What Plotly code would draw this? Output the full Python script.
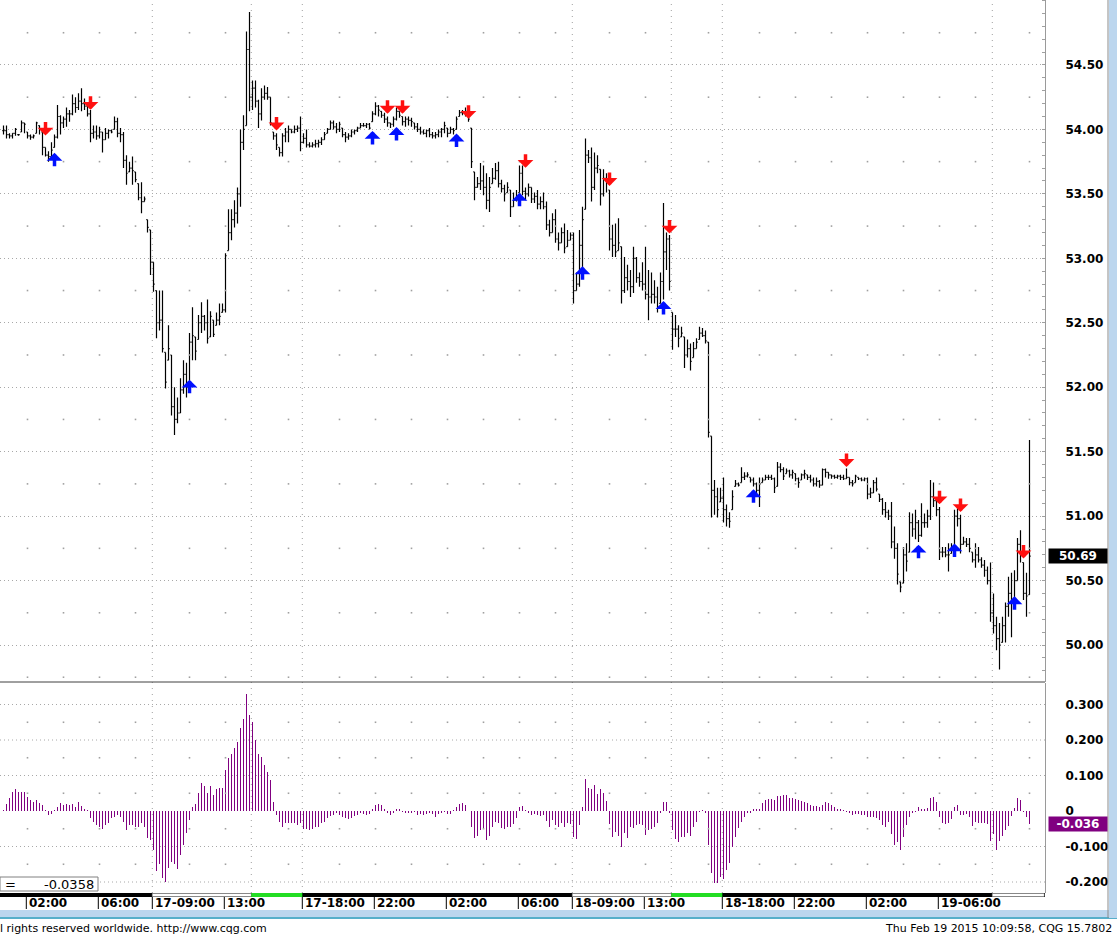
import plotly.graph_objects as go

# 10-minute bars, Feb 17 00:40 -> Feb 19 11:00
high = [
    # 0-59
    54.03, 54.03, 53.97, 53.97, 54.01, 53.96, 54.07, 54.05, 53.98, 53.96,
    53.96, 54.06, 54.03, 53.98, 53.86, 53.83, 53.90, 53.96, 54.19, 54.11,
    54.10, 54.17, 54.15, 54.27, 54.25, 54.28, 54.32, 54.24, 54.21, 54.15,
    54.03, 54.03, 54.02, 53.98, 54.01, 54.00, 54.00, 54.10, 54.09, 54.01,
    53.98, 53.80, 53.75, 53.79, 53.67, 53.58, 53.59, 53.48, 53.30, 53.22,
    52.97, 52.75, 52.75, 52.75, 52.27, 52.48, 52.25, 52.00, 51.92, 52.07,
    # 60-101
    52.21, 52.19, 52.42, 52.62, 52.39, 52.56, 52.66, 52.56, 52.68, 52.59,
    52.52, 52.58, 52.65, 52.65, 53.04, 53.38, 53.38, 53.45, 53.55, 54.00,
    54.11, 54.76, 54.91, 54.38, 54.38, 54.23, 54.32, 54.34, 54.33, 54.25,
    53.98, 53.97, 53.86, 53.97, 54.01, 54.03, 54.00, 54.03, 54.03, 54.10,
    53.97, 54.00,
    # 102-159
    53.90, 53.90, 53.92, 53.92, 53.94, 53.98, 54.01, 54.07, 54.07, 54.05,
    54.06, 54.01, 53.98, 53.97, 54.00, 54.00, 54.02, 54.05, 54.05, 54.05,
    54.05, 54.14, 54.21, 54.19, 54.14, 54.13, 54.10, 54.05, 54.10, 54.17,
    54.14, 54.10, 54.10, 54.10, 54.09, 54.05, 54.05, 54.02, 54.00, 54.00,
    54.01, 53.98, 53.98, 54.00, 54.01, 54.06, 54.01, 54.02, 54.01, 54.10,
    54.15, 54.15, 54.17, 54.14, 54.01, 53.67, 53.63, 53.74,
    # 160-212
    53.72, 53.66, 53.63, 53.70, 53.74, 53.75, 53.61, 53.57, 53.59, 53.53,
    53.51, 53.53, 53.72, 53.72, 53.55, 53.58, 53.55, 53.51, 53.53, 53.48,
    53.51, 53.44, 53.30, 53.35, 53.38, 53.20, 53.24, 53.27, 53.22, 53.20,
    53.20, 52.89, 53.22, 53.40, 53.93, 53.84, 53.86, 53.82, 53.80, 53.69,
    53.69, 53.66, 53.53, 53.26, 53.27, 53.31, 53.09, 53.01, 52.95, 52.91,
    53.09, 53.01, 52.89,
    # 213-254
    52.97, 53.09, 52.91, 52.89, 52.83, 52.78, 52.89, 53.43, 53.20, 53.18,
    52.58, 52.56, 52.48, 52.47, 52.39, 52.37, 52.34, 52.35, 52.38, 52.47,
    52.46, 52.44, 52.35, 51.62, 51.28, 51.22, 51.22, 51.30, 51.09, 51.03,
    51.20, 51.28, 51.26, 51.38, 51.34, 51.34, 51.30, 51.30, 51.26, 51.30,
    51.30, 51.32,
    # 255-302
    51.32, 51.32, 51.30, 51.42, 51.41, 51.38, 51.37, 51.36, 51.36, 51.33,
    51.30, 51.33, 51.36, 51.32, 51.32, 51.30, 51.30, 51.28, 51.37, 51.37,
    51.34, 51.32, 51.32, 51.32, 51.32, 51.32, 51.37, 51.30, 51.28, 51.32,
    51.30, 51.30, 51.30, 51.30, 51.22, 51.28, 51.30, 51.17, 51.14, 51.11,
    51.05, 51.11, 50.92, 50.79, 50.49, 50.76, 50.79, 51.03,
    # 303-342
    51.02, 51.05, 50.97, 51.10, 51.02, 51.05, 51.28, 51.26, 51.13, 51.07,
    50.76, 50.76, 50.79, 50.79, 51.05, 51.06, 51.01, 50.84, 50.83, 50.83,
    50.72, 50.79, 50.76, 50.68, 50.66, 50.61, 50.64, 50.40, 50.22, 50.17,
    50.22, 50.33, 50.53, 50.56, 50.58, 50.83, 50.89, 50.64, 50.56, 51.59,
]

low = [
    53.96, 53.93, 53.93, 53.93, 53.95, 53.95, 53.98, 53.97, 53.93, 53.92,
    53.93, 53.97, 53.96, 53.80, 53.79, 53.75, 53.79, 53.86, 53.93, 53.96,
    54.01, 54.02, 54.06, 54.11, 54.13, 54.15, 54.14, 54.15, 54.10, 53.90,
    53.93, 53.92, 53.93, 53.82, 53.92, 53.93, 53.97, 54.00, 53.94, 53.90,
    53.70, 53.57, 53.67, 53.57, 53.59, 53.45, 53.35, 53.44, 53.20, 52.87,
    52.74, 52.38, 52.44, 52.27, 51.99, 52.21, 51.78, 51.63, 51.72, 51.80,
    51.95, 51.92, 52.03, 52.21, 52.21, 52.37, 52.42, 52.44, 52.34, 52.39,
    52.39, 52.48, 52.48, 52.58, 52.58, 53.06, 53.14, 53.24, 53.27, 53.40,
    53.84, 54.03, 54.14, 54.15, 54.17, 54.01, 54.07, 54.23, 54.23, 54.03,
    53.92, 53.84, 53.79, 53.79, 53.90, 53.90, 53.97, 53.97, 53.98, 53.83,
    53.89, 53.86,
    53.86, 53.86, 53.86, 53.86, 53.88, 53.92, 53.97, 54.00, 54.00, 53.97,
    53.98, 53.94, 53.90, 53.92, 53.94, 53.96, 53.98, 54.01, 54.02, 54.01,
    54.00, 54.06, 54.11, 54.10, 54.09, 54.05, 54.02, 54.01, 54.02, 54.07,
    54.09, 54.03, 54.02, 54.03, 54.02, 54.00, 53.98, 53.96, 53.96, 53.94,
    53.94, 53.93, 53.93, 53.94, 53.94, 53.97, 53.94, 53.97, 53.96, 54.00,
    54.10, 54.11, 54.10, 54.06, 53.70, 53.45, 53.55, 53.53,
    53.49, 53.38, 53.36, 53.58, 53.61, 53.55, 53.51, 53.44, 53.51, 53.32,
    53.40, 53.44, 53.51, 53.49, 53.45, 53.48, 53.43, 53.43, 53.38, 53.38,
    53.38, 53.22, 53.17, 53.20, 53.12, 53.06, 53.12, 53.04, 53.09, 53.14,
    52.65, 52.75, 52.78, 52.89, 53.38, 53.74, 53.44, 53.53, 53.66, 53.41,
    53.48, 53.51, 53.06, 53.01, 53.01, 53.06, 52.65, 52.73, 52.75, 52.70,
    52.73, 52.81, 52.78,
    52.75, 52.68, 52.52, 52.65, 52.65, 52.58, 52.65, 52.68, 52.91, 52.75,
    52.29, 52.39, 52.31, 52.39, 52.15, 52.23, 52.13, 52.23, 52.30, 52.37,
    52.39, 52.34, 51.61, 50.99, 51.01, 50.99, 51.11, 50.95, 50.92, 50.91,
    51.05, 51.23, 51.23, 51.26, 51.28, 51.30, 51.26, 51.23, 51.18, 51.07,
    51.26, 51.28,
    51.28, 51.28, 51.18, 51.23, 51.34, 51.28, 51.33, 51.30, 51.29, 51.27,
    51.22, 51.28, 51.29, 51.28, 51.26, 51.23, 51.23, 51.22, 51.24, 51.30,
    51.29, 51.29, 51.29, 51.29, 51.28, 51.28, 51.29, 51.24, 51.23, 51.26,
    51.28, 51.27, 51.27, 51.13, 51.14, 51.18, 51.19, 51.11, 51.01, 50.99,
    50.97, 50.75, 50.67, 50.47, 50.41, 50.48, 50.57, 50.72,
    50.84, 50.82, 50.80, 50.84, 50.91, 50.91, 50.97, 51.07, 51.00, 50.66,
    50.68, 50.68, 50.57, 50.71, 50.76, 50.92, 50.71, 50.78, 50.76, 50.72,
    50.64, 50.60, 50.64, 50.60, 50.53, 50.47, 50.18, 50.09, 49.96, 49.81,
    50.02, 50.02, 50.22, 50.06, 50.30, 50.50, 50.64, 50.35, 50.22, 50.39,
]

close = [
    53.99, 53.96, 53.95, 53.97, 54.00, 53.96, 54.05, 54.04, 53.95, 53.94,
    53.95, 54.05, 54.00, 53.86, 53.80, 53.79, 53.84, 53.94, 54.10, 54.05,
    54.08, 54.12, 54.12, 54.20, 54.17, 54.22, 54.20, 54.18, 54.12, 53.97,
    53.98, 53.95, 53.98, 53.92, 53.97, 53.99, 53.98, 54.06, 53.97, 53.96,
    53.76, 53.66, 53.70, 53.68, 53.61, 53.47, 53.44, 53.46, 53.24, 52.97,
    52.80, 52.50, 52.52, 52.30, 52.04, 52.30, 51.85, 51.75, 51.80, 51.98,
    52.10, 52.00, 52.35, 52.40, 52.28, 52.50, 52.55, 52.50, 52.38, 52.55,
    52.41, 52.52, 52.55, 52.60, 53.02, 53.20, 53.30, 53.35, 53.50, 53.90,
    54.00, 54.62, 54.25, 54.32, 54.22, 54.12, 54.25, 54.28, 54.25, 54.05,
    53.95, 53.88, 53.82, 53.95, 53.98, 54.00, 53.98, 54.00, 54.01, 53.90,
    53.93, 53.88,
    53.87, 53.88, 53.89, 53.90, 53.92, 53.96, 54.00, 54.05, 54.02, 54.00,
    54.04, 53.96, 53.94, 53.95, 53.98, 53.99, 54.01, 54.03, 54.03, 54.04,
    54.01, 54.12, 54.18, 54.15, 54.11, 54.08, 54.05, 54.04, 54.08, 54.14,
    54.11, 54.06, 54.08, 54.07, 54.06, 54.02, 54.00, 53.98, 53.97, 53.99,
    53.96, 53.95, 53.96, 53.98, 54.00, 54.03, 53.97, 54.00, 53.99, 54.08,
    54.13, 54.13, 54.14, 54.08, 53.75, 53.55, 53.58, 53.60,
    53.55, 53.45, 53.55, 53.62, 53.68, 53.58, 53.54, 53.50, 53.55, 53.40,
    53.45, 53.48, 53.66, 53.52, 53.50, 53.55, 53.46, 53.48, 53.42, 53.44,
    53.40, 53.26, 53.20, 53.30, 53.15, 53.12, 53.20, 53.08, 53.14, 53.18,
    52.75, 52.80, 53.10, 53.30, 53.80, 53.78, 53.55, 53.70, 53.72, 53.50,
    53.62, 53.60, 53.15, 53.10, 53.05, 53.12, 52.75, 52.85, 52.82, 52.78,
    53.00, 52.85, 52.82,
    52.80, 52.72, 52.70, 52.72, 52.70, 52.62, 52.82, 53.05, 53.15, 52.82,
    52.45, 52.45, 52.38, 52.42, 52.25, 52.30, 52.20, 52.30, 52.35, 52.42,
    52.40, 52.36, 51.65, 51.20, 51.15, 51.05, 51.14, 51.05, 50.98, 50.96,
    51.15, 51.25, 51.24, 51.30, 51.31, 51.32, 51.28, 51.25, 51.20, 51.25,
    51.28, 51.30,
    51.30, 51.29, 51.22, 51.38, 51.36, 51.31, 51.35, 51.32, 51.34, 51.29,
    51.26, 51.32, 51.33, 51.30, 51.28, 51.25, 51.27, 51.24, 51.36, 51.34,
    51.32, 51.31, 51.30, 51.31, 51.30, 51.29, 51.30, 51.26, 51.25, 51.31,
    51.29, 51.28, 51.29, 51.17, 51.18, 51.26, 51.21, 51.13, 51.05, 51.03,
    51.00, 50.80, 50.75, 50.55, 50.45, 50.70, 50.65, 50.95,
    50.90, 50.95, 50.85, 50.95, 50.95, 51.00, 51.15, 51.12, 51.05, 50.72,
    50.72, 50.70, 50.70, 50.75, 51.00, 50.98, 50.78, 50.80, 50.78, 50.75,
    50.66, 50.70, 50.66, 50.62, 50.58, 50.50, 50.25, 50.15, 50.05, 50.00,
    50.15, 50.30, 50.40, 50.35, 50.50, 50.78, 50.70, 50.40, 50.38, 50.69,
]

# oscillator histogram, one value per bar
macd_hist = [
    0.002, 0.020, 0.036, 0.054, 0.062, 0.054, 0.054, 0.054, 0.040, 0.031,
    0.024, 0.031, 0.022, 0.017, 0.001, -0.011, -0.008, 0.001, 0.012, 0.022,
    0.017, 0.020, 0.017, 0.020, 0.012, 0.024, 0.014, 0.007, 0.001,
    -0.020, -0.030, -0.040, -0.045, -0.050, -0.040, -0.035, -0.020, -0.016, -0.012,
    -0.016, -0.030, -0.054, -0.040, -0.040, -0.045, -0.045, -0.035, -0.045, -0.077,
    -0.082, -0.110, -0.170, -0.150, -0.190, -0.200, -0.160, -0.143, -0.150, -0.162,
    -0.124, -0.096, -0.063, -0.025,
    0.012, 0.020, 0.050, 0.078, 0.070, 0.050, 0.070, 0.045, 0.061, 0.064,
    0.064, 0.115, 0.148, 0.162, 0.178, 0.194, 0.233, 0.260, 0.330, 0.270,
    0.250, 0.200, 0.160, 0.153, 0.130, 0.110, 0.087, 0.026,
    -0.012, -0.030, -0.045, -0.035, -0.035, -0.035, -0.035, -0.040, -0.035, -0.050,
    -0.050, -0.054, -0.050, -0.045, -0.045, -0.035, -0.030, -0.020, -0.014, -0.012,
    -0.007, -0.012,
    -0.016, -0.020, -0.023, -0.020, -0.014, -0.011, -0.006, -0.008, -0.011, -0.008,
    0.003, 0.017, 0.020, 0.017, 0.005, -0.005, -0.012, -0.007, 0.003, 0.006,
    -0.002, -0.005, -0.007, -0.003, -0.002, -0.010, -0.009, -0.010, -0.008, -0.003,
    -0.008, -0.016, -0.008, -0.006, -0.002, -0.008, -0.008, 0.001, 0.010, 0.019,
    0.022, 0.017, 0.000, -0.046, -0.077, -0.070, -0.054, -0.052, -0.082, -0.070,
    -0.044, -0.030, -0.035, -0.049, -0.052, -0.046, -0.046, -0.037, -0.021, 0.010,
    0.014, 0.001, -0.007, -0.011, -0.008, -0.011, -0.014, -0.011, -0.027, -0.046,
    -0.025, -0.039, -0.046, -0.033, -0.044, -0.033, -0.038, -0.072, -0.080, -0.039,
    0.012, 0.089, 0.064, 0.061, 0.072, 0.048, 0.062, 0.052, 0.028, -0.037,
    -0.072, -0.058, -0.070, -0.102, -0.063, -0.077, -0.044, -0.049, -0.039, -0.037,
    -0.039, -0.068, -0.054, -0.052, -0.044, -0.033, -0.005, 0.026, 0.026, -0.007,
    -0.054, -0.080, -0.086, -0.072, -0.072, -0.063, -0.070, -0.046, -0.030, -0.002,
    0.001, -0.007, -0.096, -0.174, -0.202, -0.202, -0.187, -0.192, -0.166, -0.147,
    -0.102, -0.072, -0.049, -0.030, -0.016, -0.005, -0.003, 0.003, 0.005, 0.003,
    0.023, 0.031, 0.033, 0.033, 0.031, 0.042, 0.043, 0.045, 0.045, 0.038,
    0.036, 0.033, 0.031, 0.029, 0.026, 0.023, 0.017, 0.014, 0.014, 0.010,
    0.017, 0.024, 0.022, 0.017, 0.012, 0.007, 0.005, 0.001, -0.002, -0.005,
    -0.012, -0.008, -0.008, -0.010, -0.010, -0.018, -0.018, -0.016, -0.021, -0.025,
    -0.039, -0.044, -0.030, -0.065, -0.096, -0.086, -0.110, -0.074, -0.039, -0.016,
    -0.005, -0.002, 0.012, 0.005, 0.005, 0.008, 0.036, 0.040, 0.026, -0.018,
    -0.035, -0.037, -0.035, -0.023, 0.010, 0.017, -0.011, -0.011, -0.008, -0.016,
    -0.042, -0.030, -0.033, -0.033, -0.033, -0.037, -0.084, -0.065, -0.110, -0.084,
    -0.070, -0.054, -0.042, -0.014, 0.008, 0.036, 0.031, -0.002, -0.018, -0.036,
]

# signal arrows (bar index, price level of the arrow)
sell_idx = [14, 29, 91, 128, 133, 155, 174, 202, 222, 281, 312, 319, 340]
sell_px = [54.01, 54.21, 54.05, 54.18, 54.18, 54.14, 53.76, 53.62, 53.25, 51.44, 51.15, 51.09, 50.73]
buy_idx = [17, 62, 123, 131, 151, 172, 193, 220, 250, 305, 317, 337]
buy_px = [53.76, 52.00, 53.93, 53.96, 53.91, 53.45, 52.88, 52.61, 51.15, 50.72, 50.73, 50.32]

# time axis
tick_idx = [8, 32, 50, 74, 100, 124, 148, 172, 190, 214, 240, 264, 288, 312]
tick_text = ["02:00", "06:00", "17-09:00", "13:00", "17-18:00", "22:00", "02:00",
             "06:00", "18-09:00", "13:00", "18-18:00", "22:00", "02:00", "19-06:00"]
session_marks = [50, 83, 100, 190, 223, 240, 330]
grid_cols = [8, 20, 32, 44, 62, 74, 95, 112, 124, 136, 148, 160, 172, 184,
             202, 214, 235, 252, 264, 276, 288, 300, 312, 324, 342]
day_sessions = [(50, 83), (190, 223), (330, 347.3)]
late_sessions = [(83, 100), (223, 240)]

price_ticks = [50.0, 50.5, 51.0, 51.5, 52.0, 52.5, 53.0, 53.5, 54.0, 54.5]
price_mids = [49.75, 50.25, 50.75, 51.25, 51.75, 52.25, 52.75, 53.25, 53.75, 54.25, 54.75]
hist_ticks = [0.3, 0.2, 0.1, 0, -0.1, -0.2]
hist_labels = ["0.300", "0.200", "0.100", "0", "-0.100", "-0.200"]
hist_grid = [0.3, 0.2, 0.1, -0.1, -0.2]
hist_mids = [0.25, 0.15, 0.05, -0.05, -0.15]

last_price = 50.69
last_hist = -0.036
cursor_value = "-0.0358"

n = len(close)
assert len(high) == n and len(low) == n and len(macd_hist) == n, (len(high), len(low), n, len(macd_hist))

# open tick taken as the previous close, kept inside the bar
opens = [close[0]] + close[:-1]
opens = [min(max(o, lo), hi) for o, lo, hi in zip(opens, low, high)]
bars = list(range(n))

W, H = 1117, 936
PW, PH = 1045, 893  # plot area in pixels
X0 = -1 - 0.5 / 3   # bar i sits at pixel column 3.5 + 3*i
X1 = X0 + PW / 3


def px(x):
    return x / PW


def py(y):
    return (PH - y) / PH


axis_font = dict(family="DejaVu Sans", size=12, color="black", weight="bold")
grid_col = "#a8a8a8"

fig = go.Figure()

# sparse dotted vertical grid
fig.add_trace(go.Scatter(
    x=[c for c in grid_cols for _ in price_mids],
    y=[m for _ in grid_cols for m in price_mids],
    mode="markers", marker=dict(symbol="square", size=1.6, color="#a0a0a0"),
    hoverinfo="skip", yaxis="y",
))
fig.add_trace(go.Scatter(
    x=[c for c in grid_cols for _ in hist_mids],
    y=[m for _ in grid_cols for m in hist_mids],
    mode="markers", marker=dict(symbol="square", size=1.6, color="#a0a0a0"),
    hoverinfo="skip", yaxis="y2",
))

fig.add_trace(go.Ohlc(
    x=bars, open=opens, high=high, low=low, close=close,
    increasing=dict(line=dict(color="black", width=1.2)),
    decreasing=dict(line=dict(color="black", width=1.2)),
    tickwidth=0.4, yaxis="y", hoverinfo="skip",
))

fig.add_trace(go.Bar(
    x=bars, y=macd_hist, width=0.3, marker=dict(color="#800080", line=dict(width=0)),
    yaxis="y2", hoverinfo="skip",
))

shapes = []
# session boundaries (dense dots)
for s in session_marks:
    shapes.append(dict(type="line", xref="x", yref="paper", x0=s - 0.4, x1=s - 0.4, y0=0, y1=1,
                       line=dict(color="#a0a0a0", width=1, dash="1px,5px"), layer="below"))
# histogram grid
for g in hist_grid:
    shapes.append(dict(type="line", xref="paper", yref="y2", x0=0, x1=1, y0=g, y1=g,
                       line=dict(color=grid_col, width=1, dash="1px,3px"), layer="below"))
# panel separator
shapes.append(dict(type="line", xref="paper", yref="paper", x0=0, x1=1, y0=py(682), y1=py(682),
                   line=dict(color="#404040", width=1)))
# session colour strip under the chart
shapes.append(dict(type="rect", xref="paper", yref="paper", x0=0, x1=1, y0=py(897), y1=py(893),
                   fillcolor="black", line=dict(width=0)))
for a, b in day_sessions:
    shapes.append(dict(type="rect", xref="x", yref="paper", x0=a - 0.4, x1=b - 0.4, y0=py(896.5), y1=py(893.5),
                       fillcolor="white", line=dict(color="#909090", width=0.5)))
for a, b in late_sessions:
    shapes.append(dict(type="rect", xref="x", yref="paper", x0=a - 0.4, x1=b - 0.4, y0=py(897), y1=py(893),
                       fillcolor="#22dd22", line=dict(width=0)))
# tick separators
for t in tick_idx:
    shapes.append(dict(type="line", xref="x", yref="paper", x0=t - 0.4, x1=t - 0.4, y0=py(909), y1=py(897),
                       line=dict(color="black", width=1)))
# window chrome
shapes.append(dict(type="rect", xref="paper", yref="paper", x0=0, x1=px(W), y0=py(917), y1=py(910),
                   fillcolor="#bcd6ee", line=dict(width=0)))
shapes.append(dict(type="line", xref="paper", yref="paper", x0=0, x1=px(W), y0=py(918), y1=py(918),
                   line=dict(color="#1f95b8", width=1.5)))
shapes.append(dict(type="rect", xref="paper", yref="paper", x0=px(1109), x1=px(W), y0=py(918), y1=py(0),
                   fillcolor="#bcd6ee", line=dict(width=0)))
shapes.append(dict(type="line", xref="paper", yref="paper", x0=px(1108), x1=px(1108), y0=py(918), y1=py(0),
                   line=dict(color="#8a8a8a", width=1)))
# cursor value box
shapes.append(dict(type="rect", xref="paper", yref="paper", x0=px(0), x1=px(98), y0=py(891), y1=py(877),
                   fillcolor="white", line=dict(color="#808080", width=1)))

annotations = []
for t, label in zip(tick_idx, tick_text):
    annotations.append(dict(x=t - 0.4, xref="x", xshift=1, xanchor="left", y=py(903), yref="paper",
                            yanchor="middle", text=label, showarrow=False, font=axis_font))
arrow_style = dict(xref="x", yref="y", text="", showarrow=True, arrowhead=1, arrowsize=0.75,
                   arrowwidth=3.5, ax=0, startstandoff=0, standoff=0, font=dict(size=1))
for i, p in zip(sell_idx, sell_px):
    annotations.append(dict(arrow_style, x=i, y=p, arrowcolor="#ff1010", ay=-15, yshift=-7.5))
for i, p in zip(buy_idx, buy_px):
    annotations.append(dict(arrow_style, x=i, y=p, arrowcolor="#0010ff", ay=15, yshift=7.5))

box_font = dict(family="DejaVu Sans", size=12, color="white", weight="bold")
annotations.append(dict(x=px(1048), xref="paper", xanchor="left", y=last_price, yref="y", yanchor="middle",
                        text=f"{last_price:.2f}", showarrow=False, bgcolor="black", width=58,
                        align="center", borderpad=0, font=box_font))
annotations.append(dict(x=px(1048), xref="paper", xanchor="left", y=last_hist, yref="y2", yanchor="middle",
                        text=f"{last_hist:.3f}", showarrow=False, bgcolor="#800080", width=58,
                        align="center", borderpad=0, font=box_font))

plain = dict(family="DejaVu Sans", size=13, color="black")
annotations.append(dict(x=px(3), xref="paper", xanchor="left", y=py(884), yref="paper", yanchor="middle",
                        text="=", showarrow=False, font=plain))
annotations.append(dict(x=px(96), xref="paper", xanchor="right", y=py(884), yref="paper", yanchor="middle",
                        text=cursor_value, showarrow=False, font=plain))
status = dict(family="DejaVu Sans", size=11, color="black")
annotations.append(dict(x=px(-2), xref="paper", xanchor="left", y=py(928), yref="paper", yanchor="middle",
                        text="l rights reserved worldwide. http://www.cqg.com", showarrow=False, font=status))
annotations.append(dict(x=px(1114), xref="paper", xanchor="right", y=py(928), yref="paper", yanchor="middle",
                        text="Thu Feb 19 2015 10:09:58, CQG 15.7802", showarrow=False, font=status))

fig.update_layout(
    width=W, height=H,
    margin=dict(l=0, r=W - PW, t=0, b=H - PH),
    paper_bgcolor="white", plot_bgcolor="white",
    showlegend=False, hovermode=False, bargap=0,
    xaxis=dict(domain=[0, 1], range=[X0, X1], anchor="y2", showticklabels=False, showgrid=False,
               zeroline=False, showline=False, ticks="", rangeslider=dict(visible=False), fixedrange=True),
    yaxis=dict(domain=[py(682), 1], range=[49.713, 55.004], side="right", anchor="x",
               tickvals=price_ticks, tickformat=".2f", tickfont=axis_font,
               showgrid=True, gridcolor=grid_col, gridwidth=1, griddash="1px,3px",
               zeroline=False, showline=True, linecolor="#9a9a9a", linewidth=1, ticks="",
               ticklabelstandoff=17,
               minor=dict(ticks="inside", ticklen=3, dtick=0.1, tickcolor="#a0a0a0", showgrid=False),
               fixedrange=True),
    yaxis2=dict(domain=[0, py(683)], range=[-0.231, 0.3606], side="right", anchor="x",
                tickvals=hist_ticks, ticktext=hist_labels, tickfont=axis_font,
                showgrid=False, zeroline=False, showline=True, linecolor="#9a9a9a", linewidth=1,
                ticks="", ticklabelstandoff=17, fixedrange=True),
    shapes=shapes,
    annotations=annotations,
)

# the page body has a default 8px margin; drop it so the chart sits at the window corner
fig.write_html(
    "out.html",
    config={"displayModeBar": False},
    post_script="document.body.style.margin='0';document.body.style.overflow='hidden';",
)
